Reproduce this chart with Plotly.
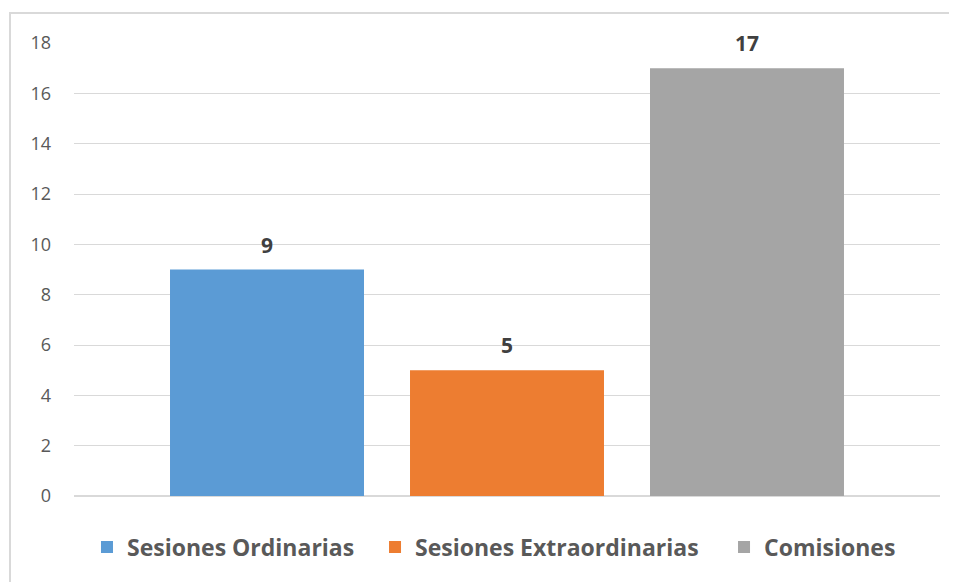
import plotly.graph_objects as go

# valores
series = ["Sesiones Ordinarias", "Sesiones Extraordinarias", "Comisiones"]
valores = [9, 5, 17]
colores = ["#5b9bd5", "#ed7d31", "#a5a5a5"]
categoria = [""]

bargap = 0.1686
slot = (1 - bargap) / len(series)
# posicion horizontal de cada entrada de leyenda (como en el original)
leyenda_x = [0.015, 0.3476, 0.7506]
leyendas = ["legend", "legend2", "legend3"]

fig = go.Figure()
for i, (nombre, val, col) in enumerate(zip(series, valores, colores)):
    fig.add_trace(go.Bar(
        x=categoria, y=[val], name=nombre, legend=leyendas[i],
        marker=dict(color=col, line=dict(width=0)),
    ))
    # etiqueta de datos encima de cada barra
    fig.add_annotation(
        x=(i - (len(series) - 1) / 2) * slot, y=val, xref="x", yref="y",
        text=str(val), showarrow=False, yanchor="bottom", yshift=9,
        font=dict(family="Open Sans", size=21, color="#404040", weight="bold"),
    )

ley_cfg = {}
for nom, lx in zip(leyendas, leyenda_x):
    ley_cfg[nom] = dict(
        orientation="h", x=lx, xanchor="left", y=-0.065, yanchor="top",
        font=dict(size=23, color="#595959", weight="bold"),
        itemwidth=30, bgcolor="rgba(0,0,0,0)",
    )

# la pagina tiene 8px de margen en el body, se compensa en el tamano
fig.update_layout(
    width=949, height=574,
    paper_bgcolor="white", plot_bgcolor="white",
    margin=dict(l=66, r=17, t=35, b=86),
    barmode="group", bargap=bargap, bargroupgap=0.1917,
    font=dict(family="Open Sans", color="#595959"),
    showlegend=True,
    xaxis=dict(showticklabels=False, showgrid=False, zeroline=False, showline=False),
    yaxis=dict(
        range=[0, 18], dtick=2, showgrid=True, gridcolor="#d9d9d9", gridwidth=1,
        zeroline=True, zerolinecolor="#d9d9d9", showline=False,
        tickfont=dict(size=18, color="#595959"), ticklabelstandoff=22,
    ),
    shapes=[dict(
        type="rect", xref="paper", yref="paper",
        x0=-64 / 866, x1=1 + 40 / 866, y0=-120 / 453, y1=1 + 30 / 453,
        line=dict(color="#d9d9d9", width=2), fillcolor="rgba(0,0,0,0)", layer="below",
    )],
    **ley_cfg,
)

fig.write_html("out.html")
